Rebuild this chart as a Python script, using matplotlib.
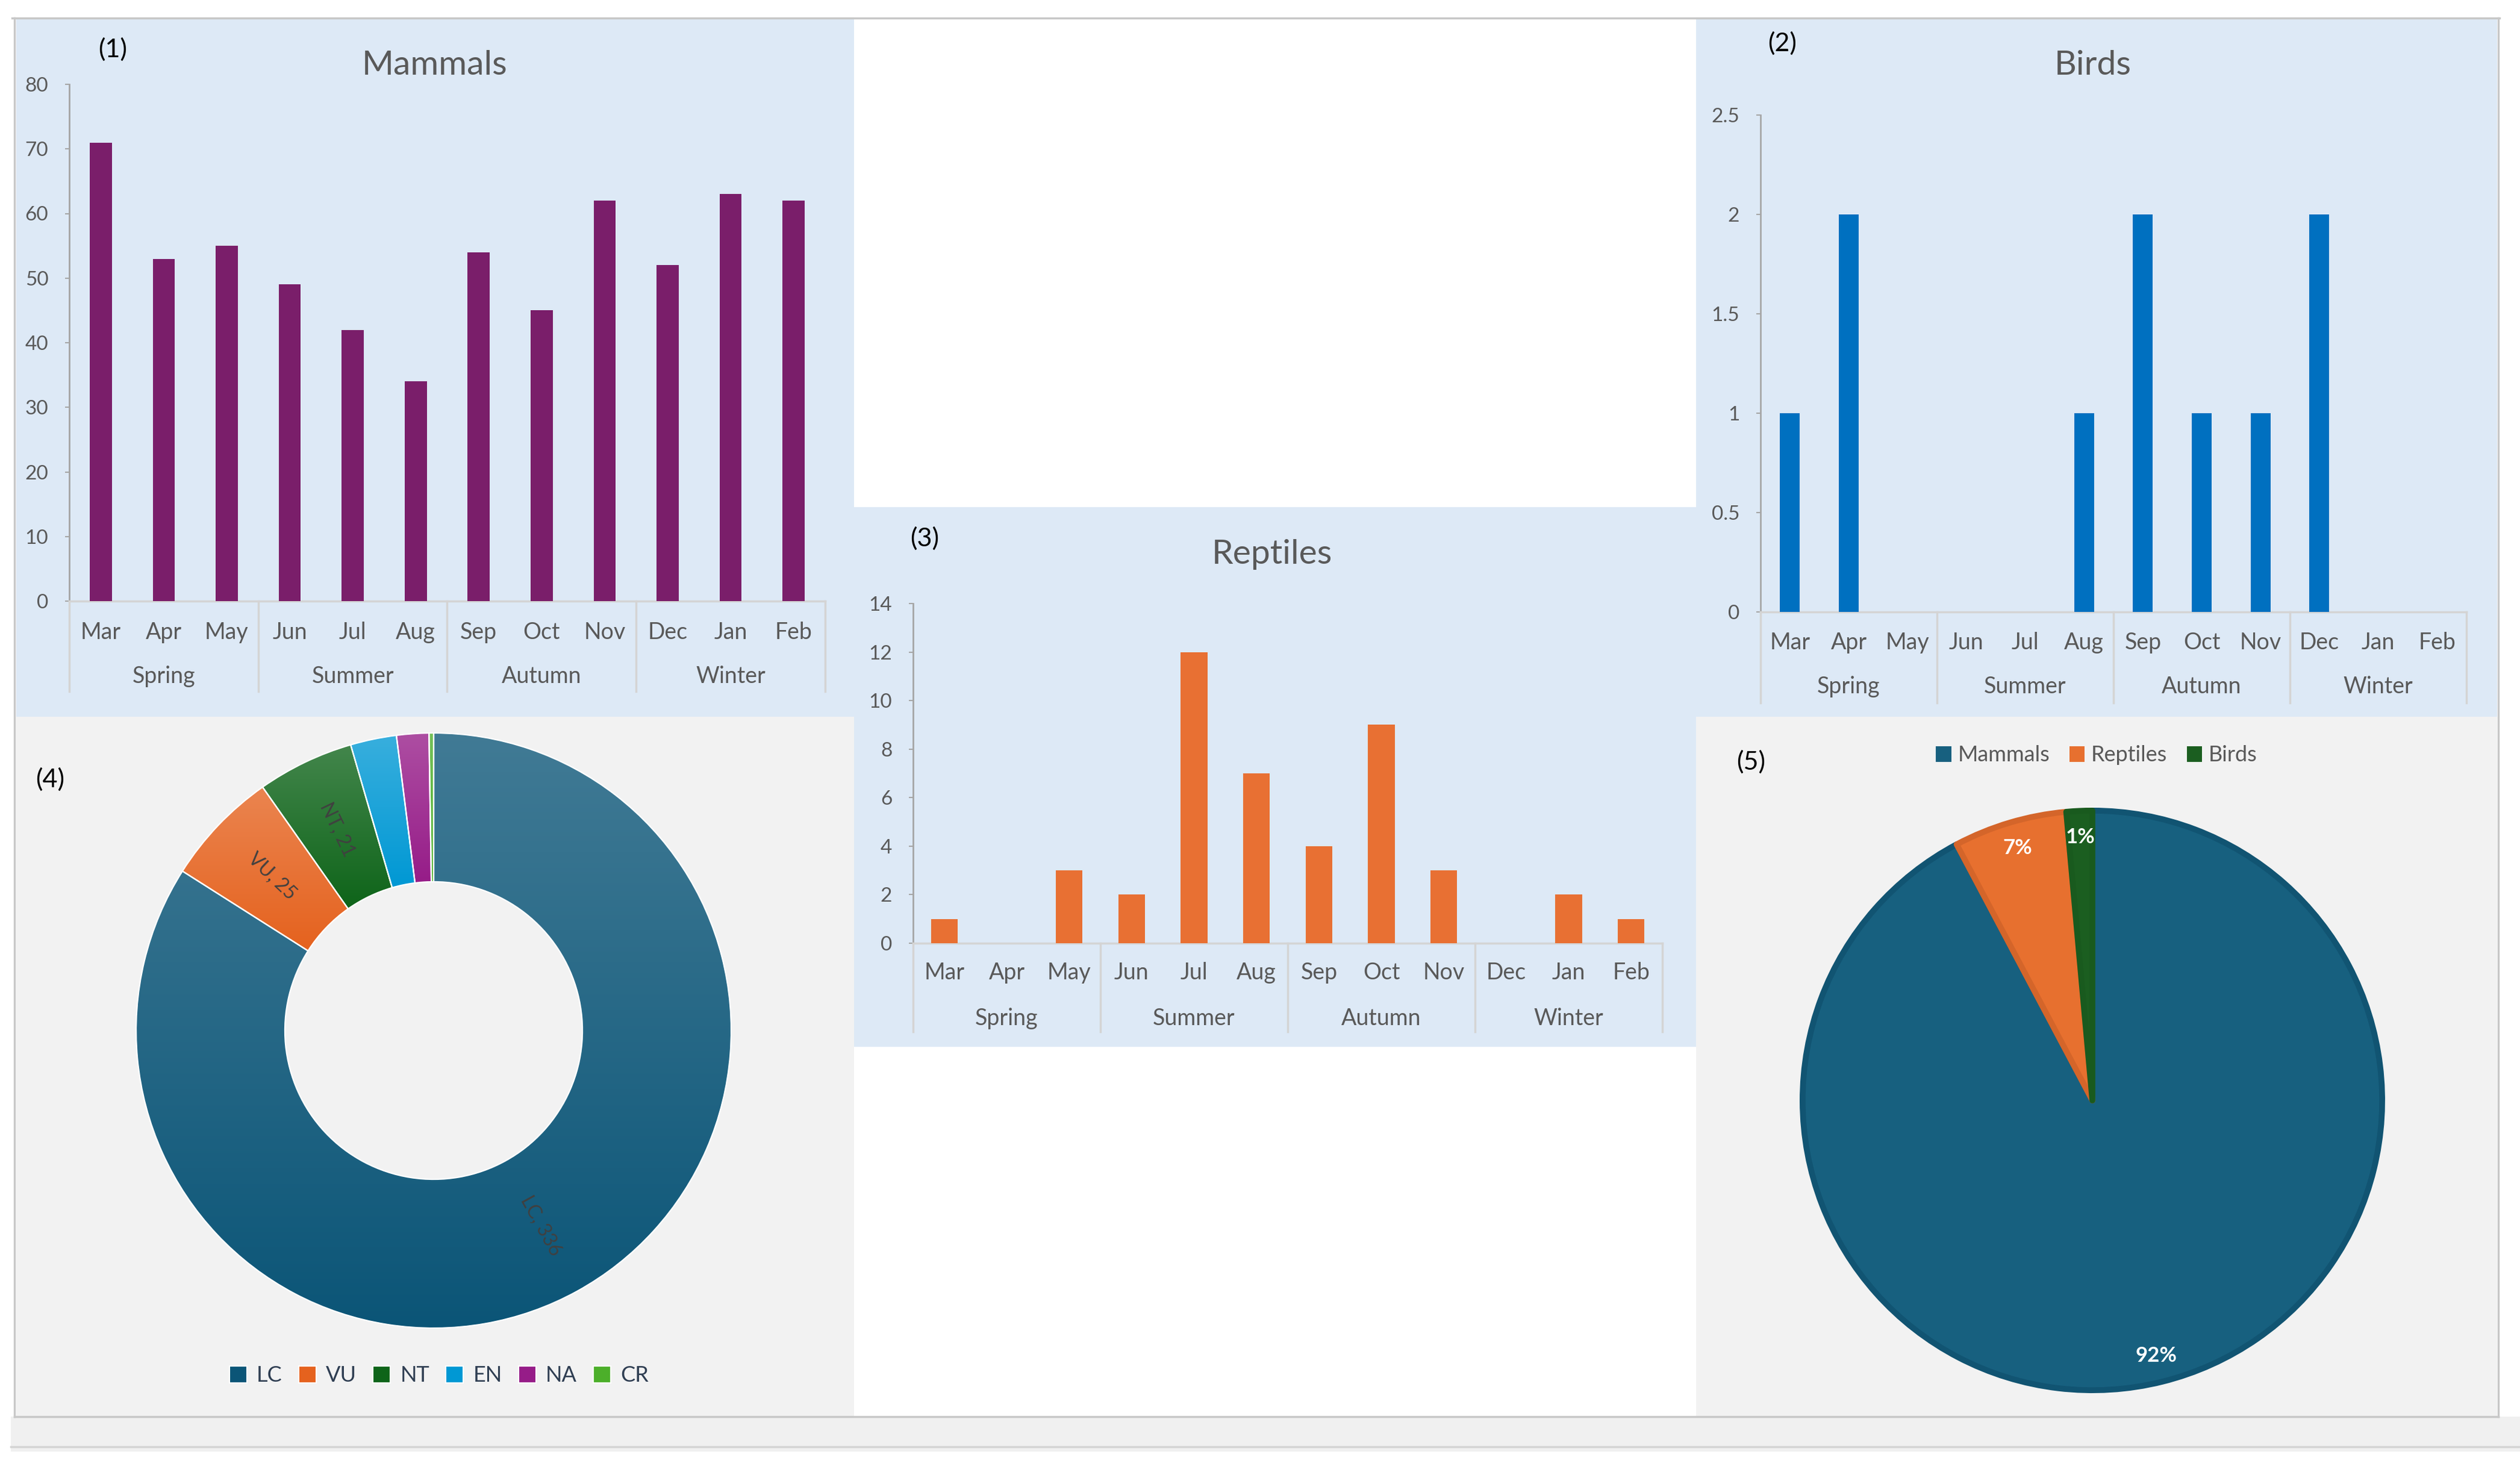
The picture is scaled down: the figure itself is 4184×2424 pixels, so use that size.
import numpy as np
import matplotlib
matplotlib.use("Agg")
import matplotlib.pyplot as plt
from matplotlib.patches import Rectangle, Patch
from matplotlib.colors import to_rgb
from matplotlib.lines import Line2D

plt.rcParams['font.family'] = ['Lato', 'DejaVu Sans']

# ---------------- data ----------------
months = ["Mar", "Apr", "May", "Jun", "Jul", "Aug", "Sep", "Oct", "Nov", "Dec", "Jan", "Feb"]
seasons = ["Spring", "Summer", "Autumn", "Winter"]
mammals = [71, 53, 55, 49, 42, 34, 54, 45, 62, 52, 63, 62]
birds = [1, 2, 0, 0, 0, 1, 2, 1, 1, 2, 0, 0]
reptiles = [1, 0, 3, 2, 12, 7, 4, 9, 3, 0, 2, 1]

mammal_ticks = [0, 10, 20, 30, 40, 50, 60, 70, 80]
bird_ticks = [0, 0.5, 1, 1.5, 2, 2.5]
bird_tick_labels = ["0", "0.5", "1", "1.5", "2", "2.5"]
reptile_ticks = [0, 2, 4, 6, 8, 10, 12, 14]

iucn_cats = ["LC", "VU", "NT", "EN", "NA", "CR"]
iucn_vals = [336, 25, 21, 10, 7, 1]
iucn_labelled = ["LC", "VU", "NT"]

groups = ["Mammals", "Reptiles", "Birds"]
group_totals = [642, 44, 10]
group_labels = ["92%", "7%", "1%"]

# ---------------- styling ----------------
W, H = 4184, 2424
DPI = 100
BLUE_BG = "#dde9f6"
GRAY_BG = "#f2f2f2"
TXT = "#595959"

fig = plt.figure(figsize=(W / DPI, H / DPI), dpi=DPI)
fig.patch.set_facecolor("white")


def fr(x0, y0, x1, y1):
    return [x0 / W, 1 - y1 / H, (x1 - x0) / W, (y1 - y0) / H]


def bg(x0, y0, x1, y1, fc, ec="none", lw=0, z=0):
    r = fr(x0, y0, x1, y1)
    fig.add_artist(Rectangle((r[0], r[1]), r[2], r[3], transform=fig.transFigure,
                             facecolor=fc, edgecolor=ec, linewidth=lw, zorder=z))


def ftext(x, y, s, **kw):
    fig.text(x / W, 1 - y / H, s, **kw)


# bottom strip and panels
bg(18, 2352, 4184, 2410, "#f0f0f0")
fig.add_artist(Line2D([18 / W, 1], [1 - 2402 / H] * 2, transform=fig.transFigure,
                      color="#d4d4d4", lw=2.5, zorder=1))
bg(27, 32, 1418, 1190, BLUE_BG)
bg(2816, 32, 4146, 1190, BLUE_BG)
bg(1418, 842, 2816, 1738, BLUE_BG)
bg(27, 1190, 1418, 2352, GRAY_BG)
bg(2816, 1190, 4146, 2352, GRAY_BG)
# outer frame lines
for (xa, ya, xb, yb) in [(20, 30, 4150, 30), (4148, 30, 4148, 2352), (24, 30, 24, 2352),
                         (24, 2352, 4148, 2352)]:
    fig.add_artist(Line2D([xa / W, xb / W], [1 - ya / H, 1 - yb / H], transform=fig.transFigure,
                          color="#c8c8c8", lw=2.5, zorder=1))


def bar_panel(px, values, ticks, ticklabels, color, barw, title, title_xy, tag, tag_xy,
              month_off, season_off, sep_off):
    x0, y0, x1, y1 = px
    ax = fig.add_axes(fr(x0, y0, x1, y1))
    ax.set_facecolor("none")
    xs = np.arange(len(months))
    ax.bar(xs, values, width=barw, color=color, zorder=3)
    ax.set_xlim(-0.5, len(months) - 0.5)
    ax.set_ylim(ticks[0], ticks[-1])
    ax.set_yticks(ticks)
    ax.set_yticklabels(ticklabels)
    ax.tick_params(axis="y", length=5, width=1.5, color="#a6a6a6", labelsize=24,
                   labelcolor=TXT, pad=20, direction="out")
    ax.set_xticks([])
    for s in ["top", "right"]:
        ax.spines[s].set_visible(False)
    ax.spines["left"].set_color("#a6a6a6")
    ax.spines["left"].set_linewidth(2)
    ax.spines["bottom"].set_color("#d4d4d4")
    ax.spines["bottom"].set_linewidth(2.5)
    hpx = y1 - y0
    tr = ax.get_xaxis_transform()
    for i, m in enumerate(months):
        ax.text(i, -month_off / hpx, m, transform=tr, ha="center", va="center",
                fontsize=27, color=TXT)
    for j, s in enumerate(seasons):
        ax.text(3 * j + 1, -season_off / hpx, s, transform=tr, ha="center", va="center",
                fontsize=27, color=TXT)
    for k in range(len(seasons) + 1):
        ax.plot([3 * k - 0.5] * 2, [0, -sep_off / hpx], transform=tr, color="#d4d4d4",
                lw=2.5, clip_on=False, zorder=2)
    ftext(*title_xy, title, ha="center", va="center", fontsize=41, color=TXT)
    ftext(*tag_xy, tag, ha="center", va="center", fontsize=31, color="black")
    return ax


bar_panel((115, 140, 1370, 998), mammals, mammal_ticks, [str(t) for t in mammal_ticks],
          "#7a1e6a", 0.35, "Mammals", (722, 108), "(1)", (187, 82), 52, 125, 150)
bar_panel((2923, 191, 4095, 1016), birds, bird_ticks, bird_tick_labels,
          "#0070c0", 0.34, "Birds", (3475, 108), "(2)", (2959, 72), 51, 124, 151)
bar_panel((1516, 1002, 2760, 1566), reptiles, reptile_ticks, [str(t) for t in reptile_ticks],
          "#e87033", 0.43, "Reptiles", (2112, 920), "(3)", (1535, 894), 49, 125, 147)

# ---------------- donut (4) ----------------
dcx, dcy, dr = 720, 1711, 494
axd = fig.add_axes(fr(dcx - dr, dcy - dr, dcx + dr, dcy + dr))
axd.set_facecolor("none")
donut_colors = ["#0b5577", "#e5621e", "#0e6419", "#0098d4", "#961c88", "#4caf2a"]
wedges, _ = axd.pie(iucn_vals, colors=donut_colors, startangle=90, counterclock=False,
                    radius=1, wedgeprops=dict(width=0.5, edgecolor="none"))
for w, c in zip(wedges, donut_colors):
    ext = w.get_path().get_extents()
    rgb = np.array(to_rgb(c))
    t = np.linspace(0.22, 0.0, 256)[:, None]
    img = (rgb[None, :] * (1 - t) + t)[:, None, :]
    im = axd.imshow(img, extent=[ext.x0, ext.x1, ext.y0, ext.y1], origin="upper",
                    aspect="auto", zorder=1.5, interpolation="bilinear")
    im.set_clip_path(w)
wedges2, _ = axd.pie(iucn_vals, colors=["none"] * len(iucn_vals), startangle=90,
                     counterclock=False, radius=1,
                     wedgeprops=dict(width=0.5, edgecolor="white", linewidth=1.6, zorder=2))
for w, name, val in zip(wedges, iucn_cats, iucn_vals):
    if name not in iucn_labelled:
        continue
    ang = (w.theta1 + w.theta2) / 2
    rr = 0.75
    x, y = rr * np.cos(np.radians(ang)), rr * np.sin(np.radians(ang))
    rot = ang
    while rot > 90:
        rot -= 180
    while rot <= -90:
        rot += 180
    axd.text(x, y, f"{name}, {val}", rotation=rot, rotation_mode="anchor",
             ha="center", va="center", fontsize=23, color="#404040", zorder=5)
axd.set_xlim(-1, 1)
axd.set_ylim(-1, 1)
axd.set_aspect("equal")
axd.axis("off")
ftext(83, 1294, "(4)", ha="center", va="center", fontsize=31, color="black")
handles = [Patch(facecolor=c, edgecolor="white", linewidth=1.5) for c in donut_colors]
fig.legend(handles, iucn_cats, loc="center", bbox_to_anchor=(729 / W, 1 - 2284 / H),
           ncol=6, frameon=False, fontsize=26, handlelength=0.8, handleheight=0.8,
           handletextpad=0.45, columnspacing=0.75, labelcolor="#2f3e52")

# ---------------- pie (5) ----------------
pcx, pcy, pr = 3474, 1827, 486
axp = fig.add_axes(fr(pcx - pr, pcy - pr, pcx + pr, pcy + pr))
axp.set_facecolor("none")
pie_fill = ["#17607f", "#e7702f", "#1b5e20"]
pie_edge = ["#115472", "#d4652a", "#195a1e"]
pw, _ = axp.pie(group_totals, colors=pie_fill, startangle=90, counterclock=False, radius=0.99,
                wedgeprops=dict(linewidth=7, joinstyle="round"))
for w, ec in zip(pw, pie_edge):
    w.set_edgecolor(ec)
for w, lab in zip(pw, group_labels):
    ang = np.radians((w.theta1 + w.theta2) / 2)
    axp.text(0.9 * np.cos(ang), 0.9 * np.sin(ang), lab, ha="center", va="center",
             fontsize=25, fontweight="bold", color="white", zorder=5)
axp.set_xlim(-1, 1)
axp.set_ylim(-1, 1)
axp.set_aspect("equal")
axp.axis("off")
ftext(2907, 1265, "(5)", ha="center", va="center", fontsize=31, color="black")
ph = [Patch(facecolor=c, edgecolor="none") for c in pie_fill]
fig.legend(ph, groups, loc="center", bbox_to_anchor=(3481 / W, 1 - 1254 / H), ncol=3,
           frameon=False, fontsize=26, handlelength=0.7, handleheight=0.7,
           handletextpad=0.3, columnspacing=0.9, labelcolor=TXT)

fig.savefig("out.png", dpi=DPI, facecolor="white")
